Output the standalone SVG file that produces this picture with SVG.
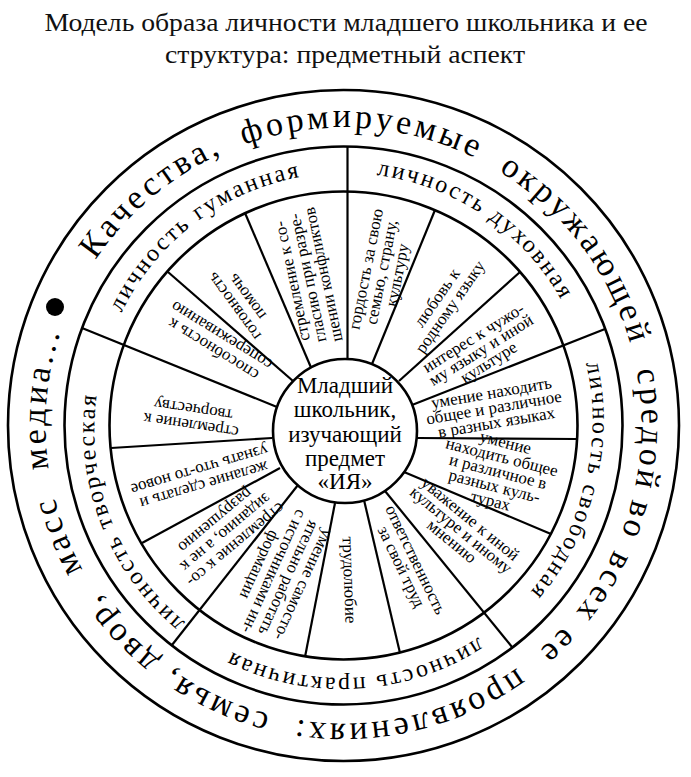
<svg xmlns="http://www.w3.org/2000/svg" width="691" height="777" viewBox="0 0 691 777">
<defs>
  <path id="outerPath" d="M73.4,299.6 A298,298 0 1 1 613.6,551.4 A298,298 0 1 1 73.4,299.6"/>
  <path id="bandPath" d="M104.0,361.3 A248,248 0 1 1 583.0,489.7 A248,248 0 1 1 104.0,361.3"/>
</defs>
<style>
  .ring{fill:none;stroke:#000;stroke-width:2.6}
  .ln{stroke:#000;stroke-width:2.2;fill:none}
  .title{font-family:"Liberation Serif",serif;font-size:26px;fill:#111;text-anchor:middle}
  .outer{font-family:"Liberation Serif",serif;font-size:34px;letter-spacing:3.5px;fill:#000;text-anchor:middle}
  .band{font-family:"Liberation Serif",serif;font-size:24px;letter-spacing:2.3px;fill:#000;text-anchor:middle}
  .item{font-family:"Liberation Serif",serif;font-size:17px;fill:#000;text-anchor:middle}
  .center{font-family:"Liberation Serif",serif;font-size:23px;fill:#000;text-anchor:middle}
</style>
<rect width="691" height="777" fill="#fff"/>

<g id="title">
  <text class="title" x="346" y="31" textLength="603" lengthAdjust="spacingAndGlyphs">Модель образа личности младшего школьника и ее</text>
  <text class="title" x="345" y="63" textLength="360" lengthAdjust="spacingAndGlyphs">структура: предметный аспект</text>
</g>

<g id="rings">
  <circle class="ring" cx="343.5" cy="425.5" r="335.5"/>
  <circle class="ring" cx="343.5" cy="425.5" r="279"/>
  <circle class="ring" cx="343.5" cy="425.5" r="234"/>
</g>

<g id="outer-text">
  <text class="outer"><textPath href="#outerPath" startOffset="130">Качества,</textPath></text>
  <text class="outer"><textPath href="#outerPath" startOffset="356.8">формируемые</textPath></text>
  <text class="outer"><textPath href="#outerPath" startOffset="613.7">окружающей</textPath></text>
  <text class="outer"><textPath href="#outerPath" startOffset="810.3">средой</textPath></text>
  <text class="outer"><textPath href="#outerPath" startOffset="899.8">во</textPath></text>
  <text class="outer"><textPath href="#outerPath" startOffset="972.6">всех</textPath></text>
  <text class="outer"><textPath href="#outerPath" startOffset="1045.4">ее</textPath></text>
  <text class="outer"><textPath href="#outerPath" startOffset="1206.6">проявлениях:</textPath></text>
  <text class="outer"><textPath href="#outerPath" startOffset="1404.3">семья,</textPath></text>
  <text class="outer"><textPath href="#outerPath" startOffset="1518.7">двор,</textPath></text>
  <text class="outer"><textPath href="#outerPath" startOffset="1631.6">масс</textPath></text>
  <text class="outer"><textPath href="#outerPath" startOffset="1768.3">медиа...</textPath></text>
  <circle cx="55" cy="307" r="9" fill="#000"/>
</g>

<g id="connectors">
  <line class="ln" x1="347.5" y1="359" x2="347.5" y2="146.5"/>
  <line class="ln" x1="372" y1="364" x2="435" y2="210"/>
  <line class="ln" x1="399" y1="381" x2="520" y2="272"/>
  <line class="ln" x1="412" y1="405" x2="605" y2="329"/>
  <line class="ln" x1="417" y1="438" x2="577" y2="439"/>
  <line class="ln" x1="404" y1="472" x2="551" y2="534"/>
  <line class="ln" x1="385" y1="491" x2="512" y2="647"/>
  <line class="ln" x1="364" y1="500" x2="400" y2="653"/>
  <line class="ln" x1="335" y1="503" x2="305" y2="657"/>
  <line class="ln" x1="298" y1="485" x2="172" y2="645"/>
  <line class="ln" x1="280" y1="468" x2="142" y2="543"/>
  <line class="ln" x1="272" y1="438" x2="111" y2="448"/>
  <line class="ln" x1="277" y1="407" x2="82" y2="328"/>
  <line class="ln" x1="293" y1="381" x2="168" y2="272"/>
  <line class="ln" x1="311" y1="367.5" x2="245" y2="213"/>
</g>

<g id="personality-band">
  <text class="band"><textPath href="#bandPath" startOffset="168.8">личность гуманная</textPath></text>
  <text class="band"><textPath href="#bandPath" startOffset="477.4">личность духовная</textPath></text>
  <text class="band"><textPath href="#bandPath" startOffset="783.4">личность свободная</textPath></text>
  <text class="band"><textPath href="#bandPath" startOffset="1103.7">личность практичная</textPath></text>
  <text class="band"><textPath href="#bandPath" startOffset="1415.3">личность творческая</textPath></text>
</g>

<g id="center">
  <circle class="ring" cx="345" cy="431" r="72" fill="#fff"/>
  <text class="center" x="345" y="393">Младший</text>
  <text class="center" x="345" y="417">школьник,</text>
  <text class="center" x="345" y="442">изучающий</text>
  <text class="center" x="345" y="466">предмет</text>
  <text class="center" x="345" y="489">«ИЯ»</text>
</g>

<g id="item-gordost" transform="translate(381,272) rotate(-78.7)">
  <text class="item" y="-10">гордость за свою</text>
  <text class="item" y="6">семью, страну,</text>
  <text class="item" y="22">культуру</text>
</g>
<g id="item-lyubov" transform="translate(443,302) rotate(-55)">
  <text class="item" y="-2">любовь к</text>
  <text class="item" y="14">родному языку</text>
</g>
<g id="item-interes" transform="translate(481,350) rotate(-32)">
  <text class="item" y="-9">интерес к чужо-</text>
  <text class="item" y="5.5">му языку и иной</text>
  <text class="item" y="20">культуре</text>
</g>
<g id="item-yazyki" transform="translate(494,408) rotate(-9.7)">
  <text class="item" y="-10">умение находить</text>
  <text class="item" y="5">общее и различное</text>
  <text class="item" y="20">в разных языках</text>
</g>
<g id="item-kultury" transform="translate(498,472) rotate(14.3)">
  <text class="item" y="-25">умение</text>
  <text class="item" y="-10">находить общее</text>
  <text class="item" y="5">и различное в</text>
  <text class="item" y="20">разных куль-</text>
  <text class="item" y="35">турах</text>
</g>
<g id="item-uvazhenie" transform="translate(461,530) rotate(39.5)">
  <text class="item" y="-9">уважение к иной</text>
  <text class="item" y="5.5">культуре и иному</text>
  <text class="item" y="20">мнению</text>
</g>
<g id="item-otvetstvennost" transform="translate(409,563) rotate(64.2)">
  <text class="item" y="-2">ответственность</text>
  <text class="item" y="14">за свой труд</text>
</g>
<g id="item-trudolyubie" transform="translate(350,580) rotate(88)">
  <text class="item" y="6">трудолюбие</text>
</g>
<g id="item-samostoyatelno" transform="translate(282,575) rotate(114.5)">
  <text class="item" y="-18">умение самосто-</text>
  <text class="item" y="-2">ятельно работать</text>
  <text class="item" y="14">с источниками ин-</text>
  <text class="item" y="30">формации</text>
</g>
<g id="item-sozidanie" transform="translate(226,533) rotate(140)">
  <text class="item" y="-10">стремление к со-</text>
  <text class="item" y="6">зиданию, а не к</text>
  <text class="item" y="22">разрушению</text>
</g>
<g id="item-zhelanie" transform="translate(202,478) rotate(163.5)">
  <text class="item" y="-2">желание сделать и</text>
  <text class="item" y="14">узнать что-то новое</text>
</g>
<g id="item-tvorchestvo" transform="translate(192,418) rotate(188.6)">
  <text class="item" y="-2">стремление к</text>
  <text class="item" y="14">творчеству</text>
</g>
<g id="item-sposobnost" transform="translate(217,343) rotate(211.7)">
  <text class="item" y="-2">способность к</text>
  <text class="item" y="14">сопереживанию</text>
</g>
<g id="item-gotovnost" transform="translate(240,302) rotate(233.7)">
  <text class="item" y="-2">готовность</text>
  <text class="item" y="14">помочь</text>
</g>
<g id="item-soglasie" transform="translate(307,278) rotate(258)">
  <text class="item" y="-10">стремление к со-</text>
  <text class="item" y="6">гласию при разре-</text>
  <text class="item" y="22">шении конфликтов</text>
</g>
</svg>
